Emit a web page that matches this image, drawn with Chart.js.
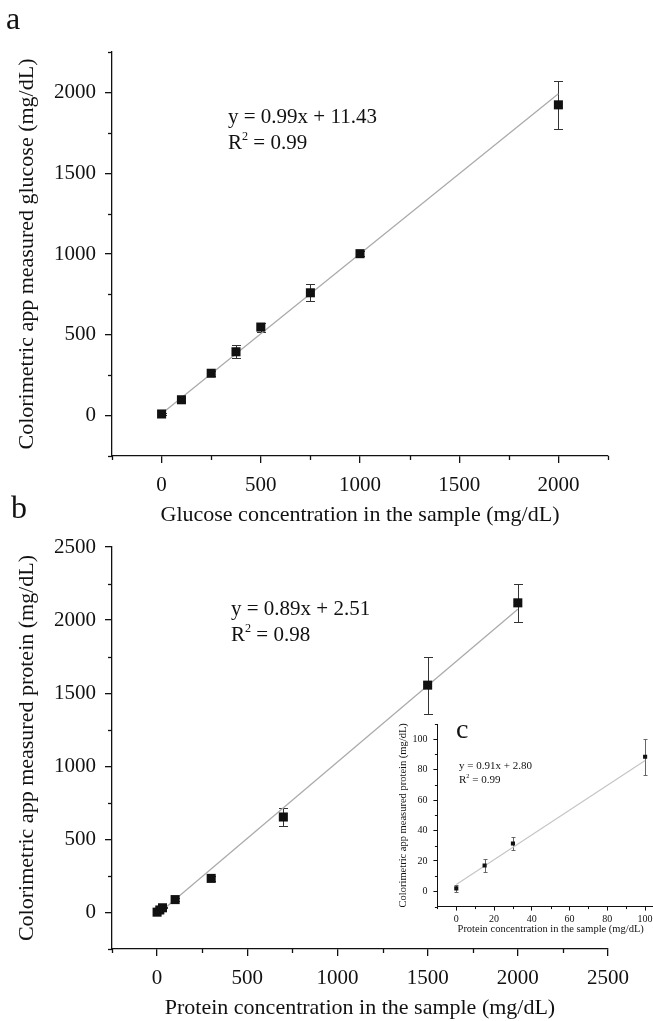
<!DOCTYPE html>
<html><head><meta charset="utf-8">
<script src="https://cdn.jsdelivr.net/npm/chart.js@4.4.1/dist/chart.umd.min.js"></script>
<style>
html,body{margin:0;padding:0;background:#fff;overflow:hidden;width:653px;height:1021px;}
body{position:relative;font-family:"Liberation Serif","Times New Roman",serif;color:#111;}
canvas{position:absolute;}
.t{position:absolute;white-space:nowrap;}
.t sup{font-size:58%;vertical-align:0.75em;line-height:0;}
</style></head><body>
<canvas id="ca" width="653" height="530" style="left:0px;top:0px"></canvas>
<canvas id="cb" width="653" height="550" style="left:0px;top:480px"></canvas>
<canvas id="cc" width="300" height="250" style="left:380px;top:700px"></canvas>
<div class="t" style="left:6px;top:2px;font-size:32px;line-height:32px">a</div>
<div class="t" style="left:11px;top:491px;font-size:32px;line-height:32px">b</div>
<div class="t" style="left:456px;top:715px;font-size:28px;line-height:28px">c</div>
<div class="t" style="left:228px;top:103px;font-size:21px;line-height:26px">y = 0.99x + 11.43<br>R<sup>2</sup> = 0.99</div>
<div class="t" style="left:231px;top:595px;font-size:21px;line-height:26px">y = 0.89x + 2.51<br>R<sup>2</sup> = 0.98</div>
<div class="t" style="left:459px;top:759px;font-size:11px;line-height:13.6px">y = 0.91x + 2.80<br>R<sup>2</sup> = 0.99</div>
<script>
// ---- data ----
const glucoseX = [0, 100, 250, 375, 500, 750, 1000, 2000];
const glucoseY = [10, 98, 262, 395, 548, 760, 1002, 1923];
const glucoseErr = [8, 10, 14, 40, 28, 52, 15, 147];
const glucoseFitX = [0, 2000];
const glucoseFitY = [12, 1992];

const proteinX = [0, 15, 30, 100, 300, 700, 1500, 2000];
const proteinY = [2, 17, 32, 88, 233, 653, 1555, 2118];
const proteinErr = [2, 4, 4, 12, 15, 63, 195, 130];
const proteinFitX = [0, 2000];
const proteinFitY = [-15, 2074];

const insetX = [0, 15, 30, 100];
const insetY = [2, 17, 31.5, 88.5];
const insetErr = [2.3, 4, 4.4, 11.7];
const insetFitX = [0, 100];
const insetFitY = [4.5, 86];

const ticksA = [0, 500, 1000, 1500, 2000];
const minorA = [-250, 250, 750, 1250, 1750, 2250];
const ticksB = [0, 500, 1000, 1500, 2000, 2500];
const minorB = [-250, 250, 750, 1250, 1750, 2250];
const ticksC = [0, 20, 40, 60, 80, 100];
const minorC = [-10, 10, 30, 50, 70, 90, 110];

const FONT = 'Liberation Serif';
const INK = '#111';

const zip = (xs, ys) => xs.map((x, i) => ({x: x, y: ys[i]}));

const minorTicks = {
  id: 'minorTicks',
  afterDraw(chart, args, o) {
    const ctx = chart.ctx;
    ctx.save();
    ctx.strokeStyle = o.color; ctx.lineWidth = o.width;
    for (const id of Object.keys(o.scales)) {
      const s = chart.scales[id];
      for (const v of o.scales[id]) {
        const p = Math.round(s.getPixelForValue(v)) + 0.5;
        ctx.beginPath();
        if (s.isHorizontal()) { ctx.moveTo(p, s.top); ctx.lineTo(p, s.top + o.len); }
        else { ctx.moveTo(s.right, p); ctx.lineTo(s.right - o.len, p); }
        ctx.stroke();
      }
    }
    ctx.restore();
  }
};

const errorBars = {
  id: 'errorBars',
  beforeDatasetsDraw(chart, args, o) {
    const xs = chart.scales.x, ys = chart.scales.y, ctx = chart.ctx;
    ctx.save();
    ctx.strokeStyle = o.color; ctx.lineWidth = o.width;
    o.xs.forEach((xv, i) => {
      const e = o.errs[i];
      const px = Math.round(xs.getPixelForValue(xv)) + 0.5;
      const t = Math.round(ys.getPixelForValue(o.ys[i] + e)) + 0.5;
      const b = Math.round(ys.getPixelForValue(o.ys[i] - e)) + 0.5;
      ctx.beginPath();
      ctx.moveTo(px, t); ctx.lineTo(px, b);
      ctx.moveTo(px - o.cap, t); ctx.lineTo(px + o.cap, t);
      ctx.moveTo(px - o.cap, b); ctx.lineTo(px + o.cap, b);
      ctx.stroke();
    });
    ctx.restore();
  }
};

function scale(c) {
  return {
    type: 'linear', min: c.min, max: c.max,
    afterBuildTicks: s => { s.ticks = c.major.map(v => ({value: v})); },
    afterFit: s => { if (c.isX) s.height = c.size; else s.width = c.size; },
    ticks: { callback: v => String(v), autoSkip: false, maxRotation: 0, minRotation: 0,
             padding: c.pad, color: INK, font: {family: FONT, size: c.tickSize} },
    grid: { display: true, drawOnChartArea: false, drawTicks: true, tickLength: c.tl,
            color: INK, lineWidth: c.lw, tickWidth: c.lw },
    border: { display: true, color: INK, width: c.lw },
    title: { display: true, text: c.title, color: INK,
             font: {family: FONT, size: c.titleSize}, padding: c.titlePad }
  };
}

function panel(id, d) {
  new Chart(document.getElementById(id), {
    type: 'scatter',
    data: { datasets: [
      { data: zip(d.x, d.y), pointStyle: 'rect', pointRadius: d.r, pointHoverRadius: d.r,
        backgroundColor: INK, borderColor: INK, borderWidth: 0, order: 1 },
      { data: zip(d.fx, d.fy), showLine: true, pointRadius: 0, borderColor: d.fitColor,
        borderWidth: d.fitWidth, order: 2 }
    ]},
    options: {
      responsive: false, animation: false, devicePixelRatio: 1,
      layout: { padding: d.padding },
      plugins: { legend: {display: false}, tooltip: {enabled: false},
        minorTicks: { color: INK, width: d.lw, len: d.minorLen, scales: {x: d.minor, y: d.minor} },
        errorBars: { xs: d.x, ys: d.y, errs: d.err, color: d.errColor, width: 1, cap: d.cap } },
      scales: {
        x: scale({isX: true, min: d.min, max: d.xmax, major: d.major, size: d.xSize, pad: d.xPad,
                  tickSize: d.tickSize, tl: d.tl, lw: d.lw, title: d.xTitle, titleSize: d.titleSize,
                  titlePad: {top: 0, bottom: d.xTitlePad}}),
        y: scale({isX: false, min: d.min, max: d.ymax, major: d.major, size: d.ySize, pad: d.yPad,
                  tickSize: d.tickSize, tl: d.tl, lw: d.lw, title: d.yTitle, titleSize: d.titleSize,
                  titlePad: {top: d.yTitlePad, bottom: 0}})
      }
    },
    plugins: [minorTicks, errorBars]
  });
}

panel('ca', {
  x: glucoseX, y: glucoseY, err: glucoseErr, fx: glucoseFitX, fy: glucoseFitY,
  min: -250, xmax: 2250, ymax: 2250, major: ticksA, minor: minorA,
  r: 6.4, cap: 4.5, errColor: '#333', fitColor: '#ababab', fitWidth: 1.3,
  padding: {top: 52, right: 45, bottom: 2, left: 0},
  xSize: 72, ySize: 112, xPad: 10, yPad: 9, tl: 7, minorLen: 4, lw: 1.3,
  tickSize: 21, titleSize: 22, xTitlePad: 0, yTitlePad: 14,
  xTitle: 'Glucose concentration in the sample (mg/dL)',
  yTitle: 'Colorimetric app measured glucose (mg/dL)'
});

panel('cb', {
  x: proteinX, y: proteinY, err: proteinErr, fx: proteinFitX, fy: proteinFitY,
  min: -250, xmax: 2500, ymax: 2500, major: ticksB, minor: minorB,
  r: 6.4, cap: 4.5, errColor: '#333', fitColor: '#ababab', fitWidth: 1.3,
  padding: {top: 67, right: 45, bottom: 9, left: 0},
  xSize: 72, ySize: 112, xPad: 10, yPad: 9, tl: 7, minorLen: 4, lw: 1.3,
  tickSize: 21, titleSize: 22, xTitlePad: 0, yTitlePad: 14,
  xTitle: 'Protein concentration in the sample (mg/dL)',
  yTitle: 'Colorimetric app measured protein (mg/dL)'
});

panel('cc', {
  x: insetX, y: insetY, err: insetErr, fx: insetFitX, fy: insetFitY,
  min: -10, xmax: 110, ymax: 110, major: ticksC, minor: minorC,
  r: 2.9, cap: 2, errColor: '#666', fitColor: '#c4c4c4', fitWidth: 1.1,
  padding: {top: 24, right: 16, bottom: 14, left: 0},
  xSize: 29.4, ySize: 57.4, xPad: 3, yPad: 6, tl: 4, minorLen: 2.5, lw: 1,
  tickSize: 10, titleSize: 10.5, xTitlePad: 0, yTitlePad: 17,
  xTitle: 'Protein concentration in the sample (mg/dL)',
  yTitle: 'Colorimetric app measured protein (mg/dL)'
});
</script>
</body></html>
